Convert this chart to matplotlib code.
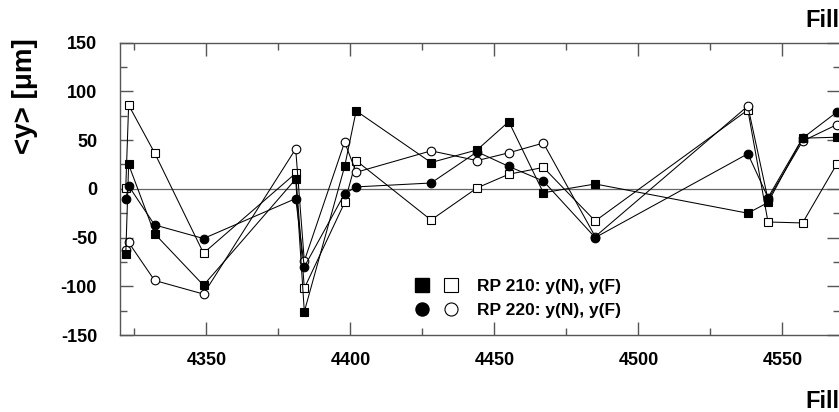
import matplotlib
matplotlib.use('Agg')
import matplotlib.pyplot as plt
from matplotlib.lines import Line2D
from matplotlib.legend_handler import HandlerTuple
from matplotlib.ticker import MultipleLocator

plt.rcParams['font.family'] = ['Liberation Sans', 'DejaVu Sans']
plt.rcParams['font.weight'] = 'bold'
plt.rcParams['axes.unicode_minus'] = False

# ---- data ----
fills = [4322, 4323, 4332, 4349, 4381, 4384, 4398, 4402, 4428, 4444,
         4455, 4467, 4485, 4538, 4545, 4557, 4569]
rp210_near = [-67, 25, -46, -99, 10, -126, 23, 80, 27, 40,
              69, -4, 5, -25, -14, 52, 53]
rp210_far = [1, 86, 37, -66, 16, -102, -14, 29, -32, 1,
             15, 22, -33, 81, -34, -35, 26]
rp220_near = [-10, 3, -37, -51, -10, -80, -5, 2, 6, 38,
              23, 8, -50, 36, -9, 52, 79]
rp220_far = [-63, -55, -94, -108, 41, -74, 48, 17, 39, 29,
             37, 47, -49, 85, -11, 49, 66]

legend_labels = ['RP 210: y(N), y(F)', 'RP 220: y(N), y(F)']

fig = plt.figure(figsize=(8.39, 4.12), dpi=100)
ax = fig.add_axes([120 / 839, 77 / 412, 720 / 839, 292.3 / 412])
ax.set_xlim(4320, 4570)
ax.set_ylim(-150, 150)

ax.axhline(0, color='#666666', lw=0.9, zorder=1)

ms = 6.2
lw = 0.75
common = dict(color='black', lw=lw, mec='black', mew=0.8, ms=ms, clip_on=False)
ax.plot(fills, rp210_far, marker='s', mfc='white', zorder=3, **common)
ax.plot(fills, rp220_far, marker='o', mfc='white', zorder=4, **common)
ax.plot(fills, rp210_near, marker='s', mfc='black', zorder=5, **common)
ax.plot(fills, rp220_near, marker='o', mfc='black', zorder=6, **common)

ax.xaxis.set_major_locator(MultipleLocator(50))
ax.xaxis.set_minor_locator(MultipleLocator(25))
ax.yaxis.set_major_locator(MultipleLocator(50))
ax.yaxis.set_minor_locator(MultipleLocator(25))

spine_col = '#555555'
for s in ax.spines.values():
    s.set_color(spine_col)
    s.set_linewidth(1.0)

ax.tick_params(which='both', direction='in', top=True, right=True,
               color=spine_col, width=1.0, labelsize=13)
ax.tick_params(which='major', length=9.5)
ax.tick_params(which='minor', length=5)
ax.tick_params(axis='y', which='both', pad=16.5)
ax.tick_params(axis='x', which='both', pad=12)

# legend with paired (filled, open) markers
lm = 9.4
p_fsq = Line2D([], [], ls='none', marker='s', ms=lm, mfc='black', mec='black')
p_osq = Line2D([], [], ls='none', marker='s', ms=lm, mfc='white', mec='black', mew=0.8)
p_fc = Line2D([], [], ls='none', marker='o', ms=lm, mfc='black', mec='black')
p_oc = Line2D([], [], ls='none', marker='o', ms=lm, mfc='white', mec='black', mew=0.8)
ax.legend([(p_fsq, p_osq), (p_fc, p_oc)], legend_labels,
          handler_map={tuple: HandlerTuple(ndivide=None, pad=0)},
          fontsize=12.5, handlelength=3.3, handletextpad=0.68,
          labelspacing=0.5, borderpad=0, borderaxespad=0, frameon=False,
          loc='center left', bbox_to_anchor=(0.4, 0.125))

fig.text(25 / 839, 1 - 96 / 412, '<y> [μm]', rotation=90, fontsize=20,
         fontweight='bold', ha='center', va='center')
fig.text(805 / 839, 1 - 27 / 412, 'Fill', fontsize=17, fontweight='bold',
         ha='left', va='baseline')
fig.text(805 / 839, 1 - 408 / 412, 'Fill', fontsize=17, fontweight='bold',
         ha='left', va='baseline')

fig.savefig('out.png', dpi=100)
